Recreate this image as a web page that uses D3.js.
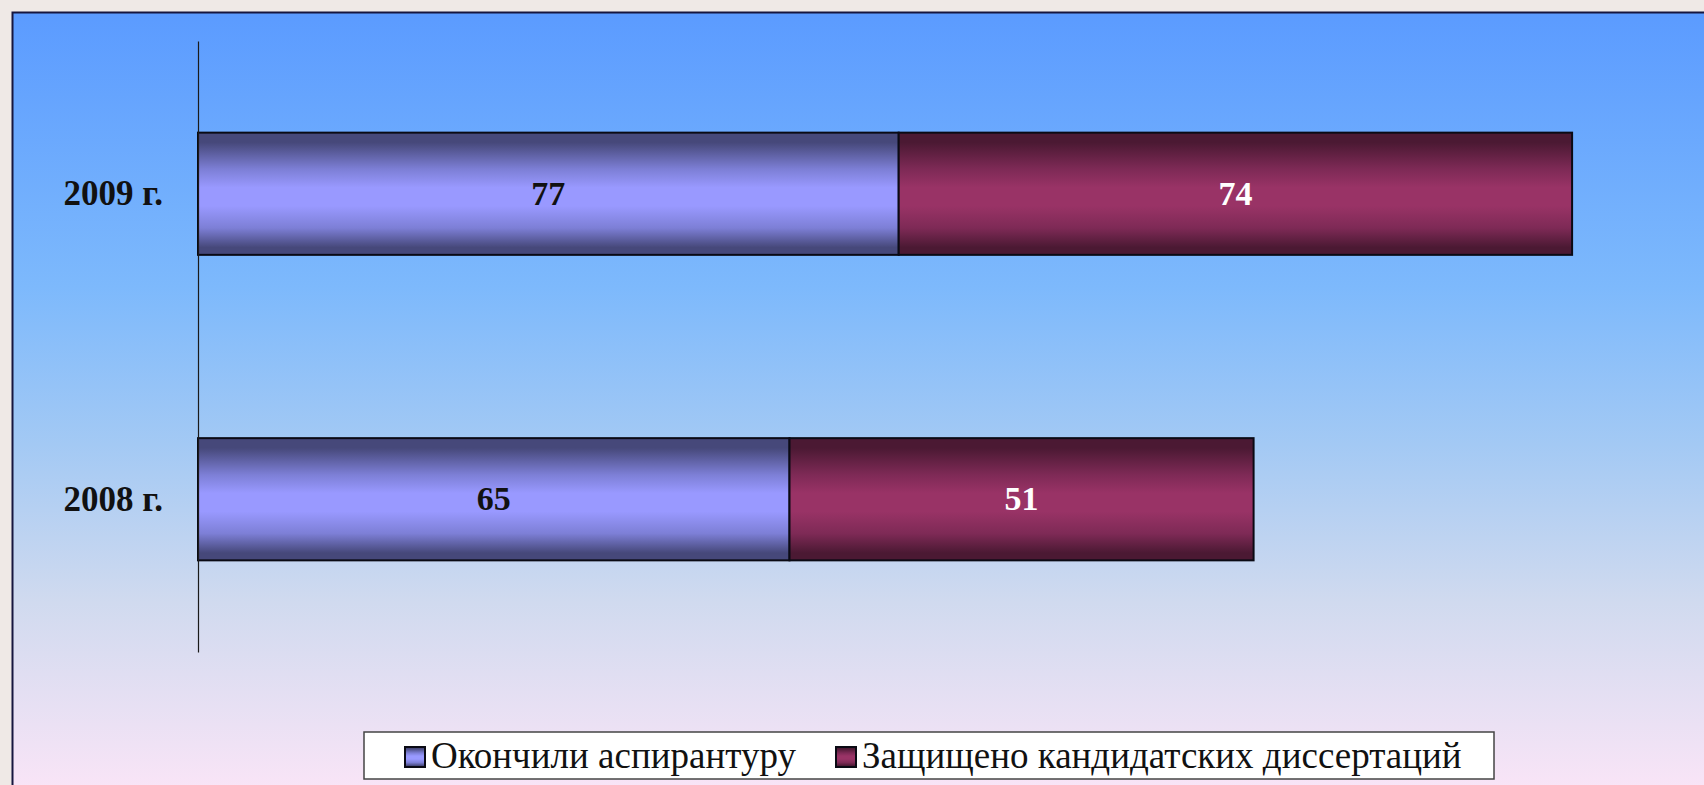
<!DOCTYPE html>
<html>
<head>
<meta charset="utf-8">
<script src="https://cdn.jsdelivr.net/npm/d3@7"></script>
<style>
    body { margin: 0; padding: 0; background: #efe9e6; }
    svg { display: block; }
</style>
</head>
<body>
<div id="chart"></div>
<script>
// chart data
var years = ["2008 г.", "2009 г."];
var seriesNames = ["Окончили аспирантуру", "Защищено кандидатских диссертаций"];
var graduated = [65, 77];
var defended = [51, 74];

(function () {

    makeChart();

    function makeChart() {

        var width = 1704,
            height = 785;

        var serif = "'Liberation Serif', 'Times New Roman', Times, serif";

        var svg = d3.select("#chart").append("svg")
            .attr("width", width)
            .attr("height", height);

        var defs = svg.append("defs");

        // background gradient of the plot frame
        var bg = defs.append("linearGradient")
            .attr("id", "bgGrad")
            .attr("x1", 0).attr("y1", 0).attr("x2", 0).attr("y2", 1);
        [[0, "#5b9bff"], [0.35, "#7db9fc"], [0.55, "#a3c9f4"], [0.75, "#d0daef"], [1, "#fbe5f7"]]
            .forEach(function (s) {
                bg.append("stop").attr("offset", s[0]).attr("stop-color", s[1]);
            });

        // bar gradients (dark edges, light middle)
        var barColors = [
            ["#46487a", "#7d7fd6", "#9999ff"],
            ["#4b1933", "#7e2a56", "#993366"]
        ];
        barColors.forEach(function (c, i) {
            var g = defs.append("linearGradient")
                .attr("id", "barGrad" + i)
                .attr("x1", 0).attr("y1", 0).attr("x2", 0).attr("y2", 1);
            [[0, c[0]], [0.08, c[0]], [0.3, c[1]], [0.45, c[2]], [0.6, c[2]], [0.78, c[1]], [0.94, c[0]], [1, c[0]]]
                .forEach(function (s) {
                    g.append("stop").attr("offset", s[0]).attr("stop-color", s[1]);
                });
        });

        // frame
        svg.append("rect")
            .attr("x", 12.5)
            .attr("y", 12.5)
            .attr("width", width)
            .attr("height", height)
            .attr("fill", "url(#bgGrad)")
            .attr("stroke", "#16163f")
            .attr("stroke-width", 2);

        // scales
        var y = d3.scaleBand()
            .domain(years.slice().reverse())
            .range([41, 652])
            .paddingInner(0.6)
            .paddingOuter(0.3);

        var x = d3.scaleLinear()
            .domain([0, 160])
            .range([198, 1654]);

        // stacked data
        var rows = years.map(function (d, i) {
            return { year: d, a: graduated[i], b: defended[i] };
        });
        var stacked = d3.stack().keys(["a", "b"])(rows);

        var layer = svg.selectAll(".layer")
            .data(stacked)
            .enter().append("g")
            .attr("class", "layer");

        layer.selectAll("rect")
            .data(function (d) { return d.map(function (p) { return { p: p, idx: d.index }; }); })
            .enter().append("rect")
            .attr("x", function (d) { return x(d.p[0]); })
            .attr("y", function (d) { return y(d.p.data.year); })
            .attr("width", function (d) { return x(d.p[1]) - x(d.p[0]); })
            .attr("height", y.bandwidth())
            .attr("fill", function (d) { return "url(#barGrad" + d.idx + ")"; })
            .attr("stroke", "#0a0a14")
            .attr("stroke-width", 2);

        // value labels
        layer.selectAll("text")
            .data(function (d) { return d.map(function (p) { return { p: p, idx: d.index }; }); })
            .enter().append("text")
            .attr("x", function (d) { return (x(d.p[0]) + x(d.p[1])) / 2; })
            .attr("y", function (d) { return y(d.p.data.year) + y.bandwidth() / 2 + 11; })
            .attr("text-anchor", "middle")
            .attr("font-family", serif)
            .attr("font-weight", "bold")
            .attr("font-size", 34)
            .attr("fill", function (d) { return d.idx === 0 ? "#111111" : "#ffffff"; })
            .text(function (d) { return d.p[1] - d.p[0]; });

        // y axis
        var yAxis = d3.axisLeft(y)
            .tickSize(0)
            .tickSizeOuter(0)
            .tickPadding(35);

        var axisG = svg.append("g")
            .attr("class", "yAxis")
            .attr("transform", "translate(198,0)")
            .call(yAxis);

        axisG.attr("font-family", serif).attr("font-size", 35);

        axisG.select(".domain")
            .attr("stroke", "#1a1a1a")
            .attr("stroke-width", 1.2);

        axisG.selectAll("text")
            .attr("dy", "0.33em")
            .attr("font-weight", "bold")
            .attr("fill", "#111111");

        // legend
        var legend = svg.append("g").attr("class", "legend");

        legend.append("rect")
            .attr("x", 364)
            .attr("y", 732)
            .attr("width", 1130)
            .attr("height", 47)
            .attr("fill", "#ffffff")
            .attr("stroke", "#444444")
            .attr("stroke-width", 1.5);

        var legendX = [405, 836];

        var item = legend.selectAll(".item")
            .data(seriesNames)
            .enter().append("g")
            .attr("class", "item")
            .attr("transform", function (d, i) { return "translate(" + legendX[i] + ",0)"; });

        item.append("rect")
            .attr("x", 0)
            .attr("y", 747)
            .attr("width", 20)
            .attr("height", 20)
            .attr("fill", function (d, i) { return "url(#barGrad" + i + ")"; })
            .attr("stroke", "#0a0a14")
            .attr("stroke-width", 2);

        item.append("text")
            .attr("x", 26)
            .attr("y", 768)
            .attr("font-family", serif)
            .attr("font-size", 37)
            .attr("fill", "#111111")
            .text(function (d) { return d; });
    }

})();
</script>
</body>
</html>
